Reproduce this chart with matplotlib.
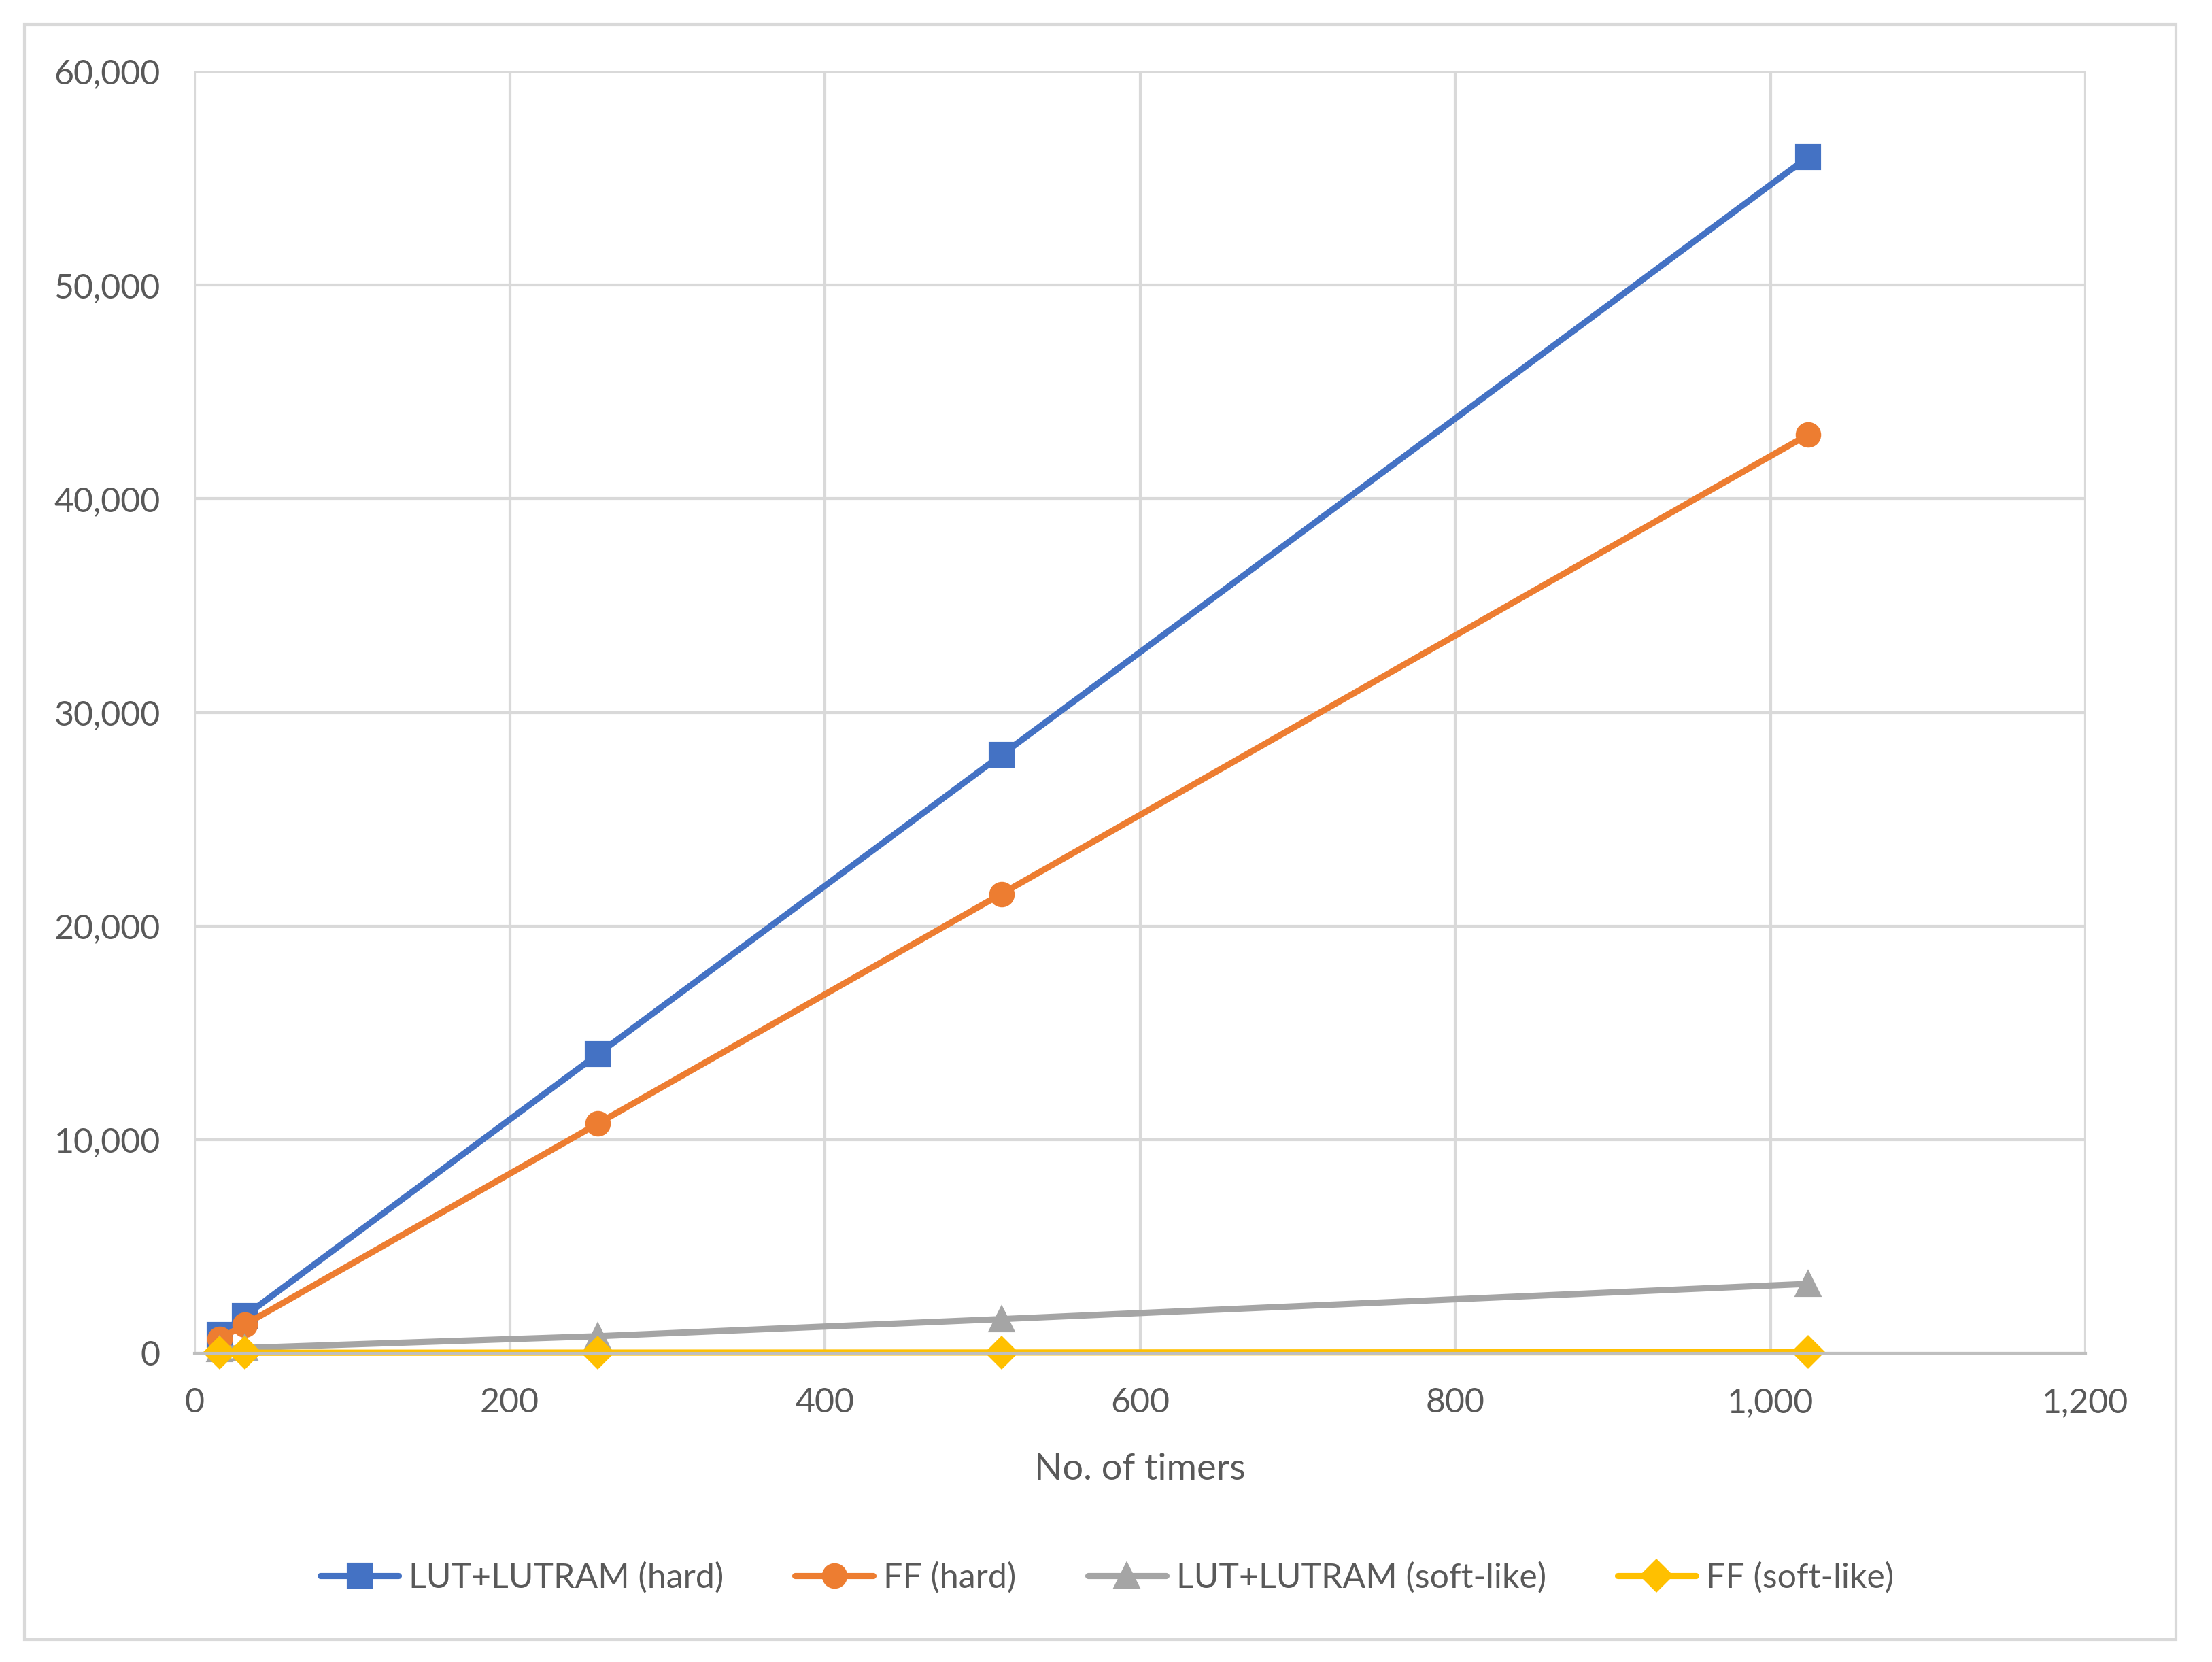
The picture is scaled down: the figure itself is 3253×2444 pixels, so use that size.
import matplotlib
matplotlib.use("Agg")
import matplotlib.pyplot as plt
from matplotlib.patches import Rectangle
from matplotlib.ticker import FuncFormatter

# =========================
# DATA
# =========================
timers = [16, 32, 256, 512, 1024]
lut_hard = [875, 1750, 14000, 28000, 56000]
ff_hard = [672, 1344, 10750, 21500, 43000]
lut_soft = [200, 250, 800, 1600, 3250]
ff_soft = [20, 25, 30, 35, 50]

series_labels = ["LUT+LUTRAM (hard)", "FF (hard)", "LUT+LUTRAM (soft-like)", "FF (soft-like)"]
series_colors = ["#4472C4", "#ED7D31", "#A5A5A5", "#FFC000"]
series_markers = ["s", "o", "^", "D"]

X_TICKS = [0, 200, 400, 600, 800, 1000, 1200]
Y_TICKS = [0, 10000, 20000, 30000, 40000, 50000, 60000]

plt.rcParams['font.family'] = ['Lato', 'DejaVu Sans']

W, H, DPI = 3254, 2444, 300
fig = plt.figure(figsize=(W / DPI, H / DPI), dpi=DPI)

# outer chart frame
fig.patches.append(Rectangle((36 / W, 1 - 2411 / H), (3200 - 36) / W, (2411 - 36) / H,
                             transform=fig.transFigure, fill=False,
                             edgecolor="#D9D9D9", linewidth=1.0))

ax = fig.add_axes([286 / W, 1 - 1990 / H, (3067 - 286) / W, (1990 - 105) / H])

for vals, lab, col, mk in zip([lut_hard, ff_hard, lut_soft, ff_soft],
                              series_labels, series_colors, series_markers):
    ms = 7.5 if mk == "D" else 8
    ax.plot(timers, vals, color=col, marker=mk, markersize=ms, linewidth=2.2,
            label=lab, clip_on=False, solid_capstyle="round")

ax.set_xlim(0, 1200)
ax.set_ylim(0, 60000)
ax.set_xticks(X_TICKS)
ax.set_yticks(Y_TICKS)
ax.xaxis.set_major_formatter(FuncFormatter(lambda v, p: f"{int(v):,}"))
ax.yaxis.set_major_formatter(FuncFormatter(lambda v, p: f"{int(v):,}"))
ax.tick_params(length=0, labelsize=12, labelcolor="#595959")
ax.tick_params(axis="y", pad=12)
ax.tick_params(axis="x", pad=12)

ax.grid(True, color="#D9D9D9", linewidth=1.0)
ax.set_axisbelow(True)
for side in ["top", "right", "left"]:
    ax.spines[side].set_visible(False)
ax.spines["bottom"].set_color("#BFBFBF")
ax.spines["bottom"].set_linewidth(1.0)

ax.set_xlabel("No. of timers", fontsize=13, color="#595959", labelpad=12)

fig.legend(loc="center", bbox_to_anchor=(1628 / W, 1 - 2320 / H), ncol=4,
           frameon=False, fontsize=12, labelcolor="#595959",
           handlelength=2.3, columnspacing=2.1, handletextpad=0.3)

fig.savefig("out.png", dpi=DPI, facecolor="white")
